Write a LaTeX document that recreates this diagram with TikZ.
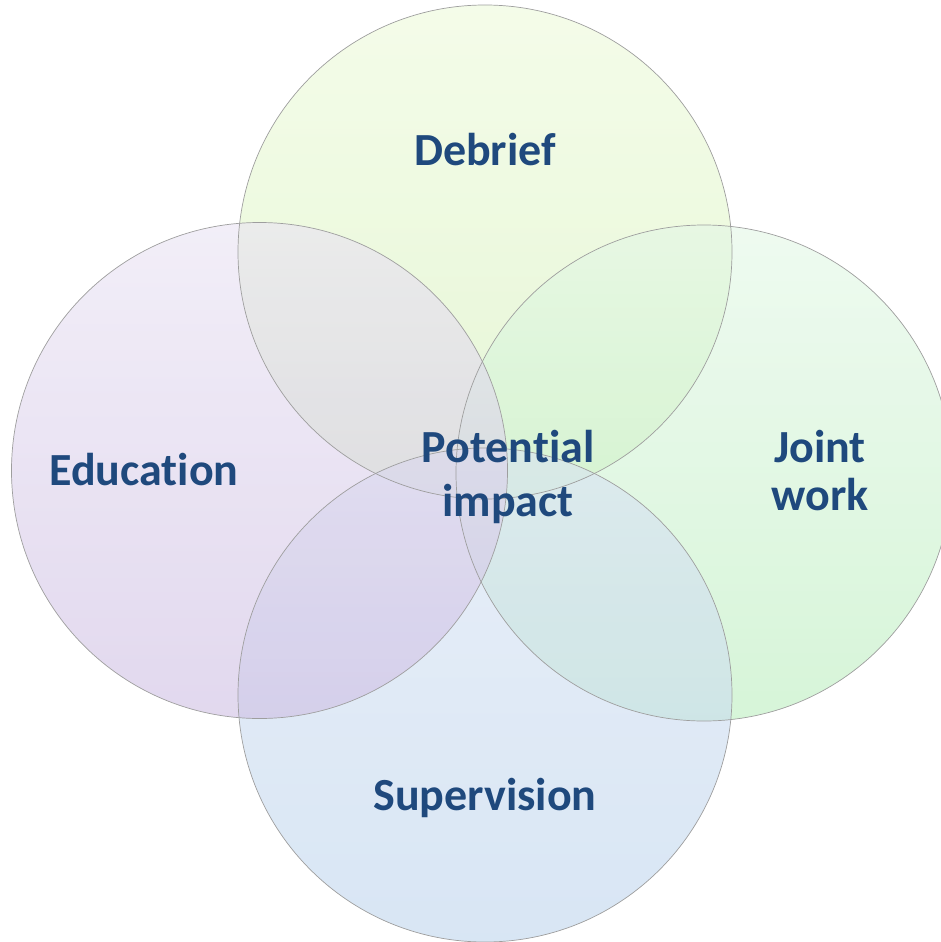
\documentclass[tikz,border=0pt]{standalone}
\usepackage{fontspec}
\setmainfont{Carlito}[Ligatures={NoCommon,NoRequired,NoContextual}]
\definecolor{txt}{HTML}{1F497D}
\definecolor{dtop}{RGB}{237,250,218}\definecolor{dbot}{RGB}{212,240,186}
\definecolor{etop}{RGB}{233,227,243}\definecolor{ebot}{RGB}{206,190,227}
\definecolor{jtop}{RGB}{227,247,230}\definecolor{jbot}{RGB}{187,238,190}
\definecolor{stop}{RGB}{217,227,243}\definecolor{sbot}{RGB}{190,213,237}
\begin{document}
\begin{tikzpicture}[x=1pt,y=-1pt,
  ring/.style={draw=black!38,line width=0.7pt},
  lab/.style={font=\fontsize{46}{52}\selectfont\bfseries,text=txt,align=center,inner sep=0pt}]
\useasboundingbox (0,0) rectangle (941,942);
\clip (0,0) rectangle (941,942);
\shade[top color=dtop,bottom color=dbot,fill opacity=0.6] (485,252) circle[radius=247];
\shade[top color=jtop,bottom color=jbot,fill opacity=0.6] (704,473) circle[radius=248];
\shade[top color=stop,bottom color=sbot,fill opacity=0.6] (485,695) circle[radius=247];
\shade[top color=etop,bottom color=ebot,fill opacity=0.6] (259.5,470.5) circle[radius=248];
\draw[ring] (485,252) circle[radius=247];
\draw[ring] (259.5,470.5) circle[radius=248];
\draw[ring] (704,473) circle[radius=248];
\draw[ring] (485,695) circle[radius=247];
\node[lab,anchor=base] (deb) at (485,165) {Debrief};
\node[lab,anchor=base] (edu) at (144,485) {Educat\kern0pt ion};
\node[lab,anchor=base] (sup) at (485,810) {Supervision};
\node[lab,anchor=base] (jw1) at (820,462) {Joint};
\node[lab,anchor=base] (jw2) at (820,510) {work};
\node[lab,anchor=base] (pi1) at (508,462) {Potent\kern0pt ial};
\node[lab,anchor=base] (pi2) at (508,516) {impact};
\end{tikzpicture}
\end{document}
